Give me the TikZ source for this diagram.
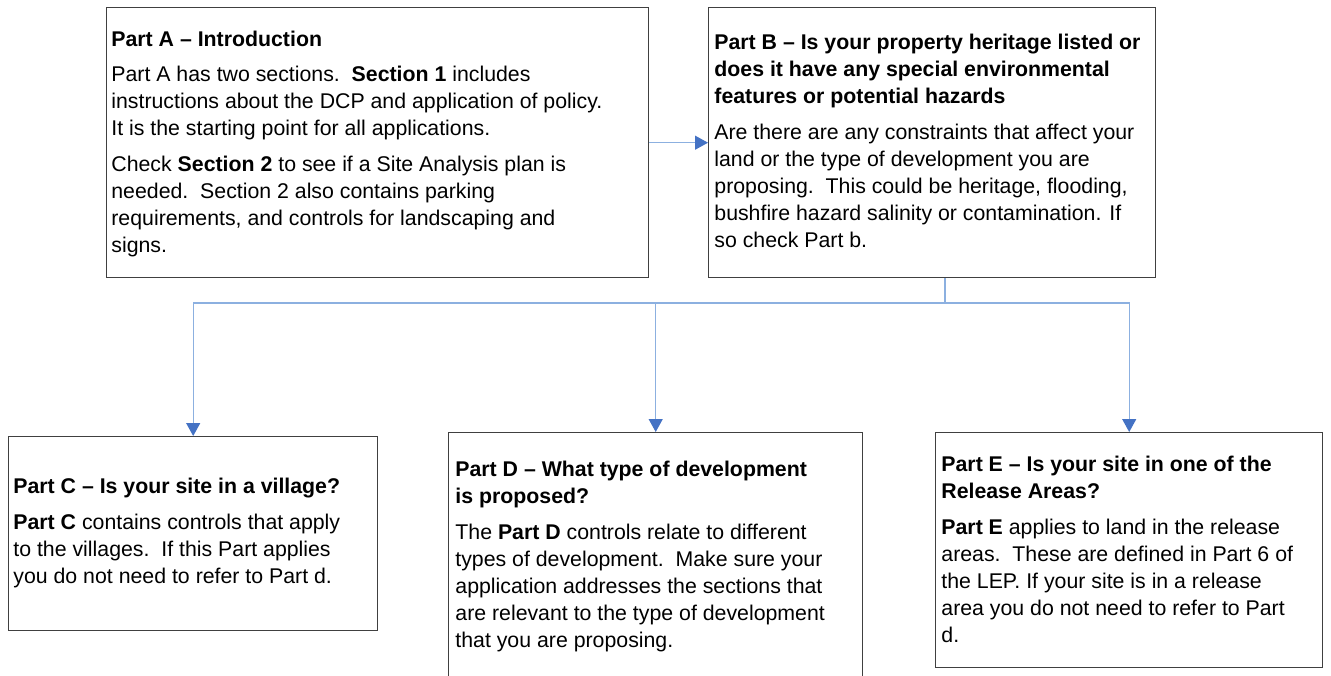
\documentclass[tikz,border=0pt]{standalone}
\usepackage{fontspec}
\setmainfont{Liberation Sans}
\usetikzlibrary{arrows.meta}
\definecolor{linkblue}{RGB}{140,176,224}
\definecolor{tipblue}{RGB}{68,114,196}

\begin{document}
\begin{tikzpicture}[x=0.5pt,y=-0.5pt,
  box/.style={rectangle,draw=black!75,line width=0.7pt,anchor=north west,inner sep=0pt},
  txt/.style={anchor=north west,align=left,inner sep=0pt,font=\fontsize{10.65}{13.5}\selectfont},
  link/.style={draw=linkblue,line width=0.6pt,-{Triangle[width=7pt,length=6.5pt,color=tipblue]}}]
\clip (0,0) rectangle (1331,675);

% the five parts
\node[box,minimum width=271pt,minimum height=135pt] (partA) at (106,7) {};
\node[box,minimum width=223.5pt,minimum height=135pt] (partB) at (708,7) {};
\node[box,minimum width=184.5pt,minimum height=97pt] (partC) at (8,436) {};
\node[box,minimum width=207pt,minimum height=132pt] (partD) at (448,432) {};
\node[box,minimum width=193.5pt,minimum height=117.5pt] (partE) at (935,432) {};

% texts, placed by the top of the first line (strut)
\node[txt] (textA) at (111,27) {\strut\textbf{Part A -- Introduction}\\[4pt]
  Part A has two sections.\ \ \textbf{Section 1} includes\\
  instructions about the DCP and application of policy.\\
  It is the starting point for all applications.\\[4.5pt]
  Check \textbf{Section 2} to see if a Site Analysis plan is\\
  needed.\ \ Section 2 also contains parking\\
  requirements, and controls for landscaping and\\
  signs.};
\node[txt] (textB) at (714,30) {\strut\textbf{Part B -- Is your property heritage listed or}\\
  \textbf{does it have any special environmental}\\
  \textbf{features or potential hazards}\\[4.5pt]
  Are there are any constraints that affect your\\
  land or the type of development you are\\
  proposing.\ \ This could be heritage, flooding,\\
  bushfire hazard salinity or contamination. If\\
  so check Part b.};
\node[txt] (textC) at (13,474) {\strut\textbf{Part C -- Is your site in a village?}\\[4.5pt]
  \textbf{Part C} contains controls that apply\\
  to the villages.\ \ If this Part applies\\
  you do not need to refer to Part d.};
\node[txt] (textD) at (455,457) {\strut\textbf{Part D -- What type of development}\\
  \textbf{is proposed?}\\[4.5pt]
  The \textbf{Part D} controls relate to different\\
  types of development.\ \ Make sure your\\
  application addresses the sections that\\
  are relevant to the type of development\\
  that you are proposing.};
\node[txt] (textE) at (941,452) {\strut\textbf{Part E -- Is your site in one of the}\\
  \textbf{Release Areas?}\\[4.5pt]
  \textbf{Part E} applies to land in the release\\
  areas.\ \ These are defined in Part 6 of\\
  the LEP. If your site is in a release\\
  area you do not need to refer to Part\\
  d.};

% connectors
\coordinate (split) at (945,303);
\draw[link] (partA) -- (partB);
\draw[draw=linkblue,line width=0.6pt] (split |- partB.south) -- (split);
\draw[link] (split) -| (partC.north);
\draw[link] (split) -| (partE.north);
\draw[link] (partD.north |- split) -- (partD.north);
\end{tikzpicture}
\end{document}
